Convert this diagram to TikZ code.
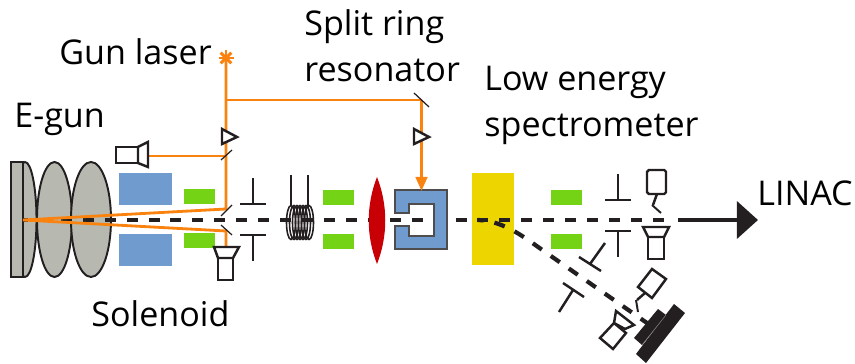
\documentclass[tikz,border=0pt]{standalone}
\usepackage{fontspec}
\setmainfont{Open Sans}
\usepackage{xcolor}
\usetikzlibrary{arrows.meta,positioning,calc,shapes.geometric}
\definecolor{mygrey}{RGB}{183,185,176}
\definecolor{myblue}{RGB}{112,155,207}
\definecolor{mygreen}{RGB}{115,211,20}
\definecolor{myorange}{RGB}{250,130,15}
\definecolor{myred}{RGB}{200,0,5}
\definecolor{myyellow}{RGB}{237,213,0}
\definecolor{myblack}{RGB}{35,31,32}
\tikzset{
  label/.style={anchor=base west, inner sep=0pt, font=\fontsize{19.4}{23}\selectfont},
  partline/.style={myblack, line width=1.4pt},
  partbox/.style={draw=myblack, fill=white, line width=1.4pt, line join=miter},
  beam/.style={myblack, line width=2.4pt, dash pattern=on 6.24pt off 6.24pt},
  laser/.style={myorange, line width=1.6pt},
  mirror/.style={myblack, line width=0.7pt},
}
\begin{document}
\begin{tikzpicture}[x=0.02cm,y=-0.02cm]
  \useasboundingbox (0,0) rectangle (855,364);
  % fixed points of the beams
  \coordinate (cathode) at (23,220);
  \coordinate (laserstar) at (226,58);
  \coordinate (splitm) at (421.5,100);
  \coordinate (branch) at (226,100);
  \coordinate (vcm) at (226,156);
  \coordinate (upperm) at (226,209);
  \coordinate (lowerm) at (226,231);
  \coordinate (bendstart) at (478,220);
  \coordinate (bendend) at (548,254);

  % gun
  \foreach \cx/\rx in {25/11.5, 54.5/17.5, 91/20}{
    \draw[fill=mygrey, draw=myblack, line width=1.1pt] (\cx,219.5) ellipse ({\rx} and 57.5);
  }
  \foreach \x/\w in {119/53}{
    \fill[myblue] (\x,173) rectangle ++(\w,32);
    \fill[myblue] (\x,234) rectangle ++(\w,32);
  }
  % steerers
  \foreach \x/\ya/\yb in {184/189/233, 323/190/234, 551/190/234}{
    \fill[mygreen] (\x,\ya) rectangle ++(30.5,15.5);
    \fill[mygreen] (\x,\yb) rectangle ++(30.5,15.5);
  }
  \fill[myyellow] (472,173) rectangle (514,265);

  % beam line
  \draw[beam] (17,220) -- (668,220);
  \draw[myblack, line width=2.4pt, -{Triangle[length=12pt,width=21pt]}] (678,220) -- (758,220);
  \draw[beam, dash phase=3pt] (bendstart) .. controls (505,221) and (525,238) .. (bendend) -- (647,323);

  % cathode plate
  \draw[fill=mygrey, draw=myblack, line width=1.4pt] (11,162) rectangle (23,277);

  % coil
  \foreach \x in {291,294,297,300,303,306,309}{
    \draw[myblack, line width=0.9pt] (\x,222.5) ellipse (4.5 and 17);
  }
  \foreach \x in {291,308}{
    \draw[partline] (\x,175) -- (\x,206);
  }

  % lens
  \fill[myred] (377,177) .. controls (388,205) and (388,236) .. (377,264)
    .. controls (366,236) and (366,205) .. (377,177) -- cycle;

  % resonator
  \draw[fill=myblue, draw=myblack!80, line width=0.8pt]
    (395,190) -- (447,190) -- (447,249) -- (395,249) -- (395,226) -- (409,226)
    -- (409,236) -- (434,236) -- (434,204) -- (409,204) -- (409,213) -- (395,213) -- cycle;

  % slits
  \foreach \x/\ya/\yb in {253/204/235, 618/200/231}{
    \draw[partline] (\x-13,\ya) -- (\x+13,\ya) (\x,\ya) -- (\x,\ya-26);
    \draw[partline] (\x-13,\yb) -- (\x+13,\yb) (\x,\yb) -- (\x,\yb+26);
  }
  \draw[partline] (579,257) -- (601,271) (590,264) -- (605,243);
  \draw[partline] (563,283) -- (584,297) (573,290) -- (559,312);

  % laser paths
  \draw[laser] (laserstar) -- (upperm) -- (cathode) -- (lowerm) -- (226,247);
  \draw[laser] (branch) -- (splitm);
  \draw[laser] (vcm) -- (148,156);
  \draw[laser, line width=1.8pt, -{Triangle[length=8pt,width=6.5pt]}] (splitm) -- (421.5,191);
  \foreach \a in {0,45,90,135}{
    \draw[myorange, line width=1.7pt] ($(laserstar)+(\a:7.5)$) -- ($(laserstar)+(\a+180:7.5)$);
  }

  % mirrors
  \draw[mirror] (221,160) -- (232,150);
  \draw[mirror] (221,216) -- (232,205);
  \draw[mirror] (221,225) -- (232,235);
  \draw[mirror] (414,93) -- (429,107);

  % attenuators
  \draw[partbox] (222,129) -- (237,137) -- (222,144) -- cycle;
  \draw[partbox] (414,129) -- (429,137) -- (414,144) -- cycle;

  % cameras
  \draw[partbox] (116,147) rectangle (138,163);
  \draw[partbox] (138,147) -- (148,142) -- (148,167) -- (138,163) -- cycle;
  \draw[partbox] (218,258) rectangle (233,280);
  \draw[partbox] (214,247) -- (239,247) -- (233,258) -- (218,258) -- cycle;
  \draw[partbox] (648,237) rectangle (664,259);
  \draw[partbox] (643,227) -- (669,227) -- (664,237) -- (648,237) -- cycle;

  % screens
  \draw[partbox, rounded corners=1pt] (647,170) rectangle (666,194);
  \draw[partline] (657,194) -- (653,205);
  \draw[mirror, line width=1.1pt] (652,205) -- (661,213);

  % dump arm
  \draw[partbox] (652,269) -- (666,279) -- (652,298) -- (638,287) -- cycle;
  \draw[partline] (645,293) -- (637,300);
  \draw[mirror, line width=1.1pt] (636,300) -- (638,312);
  \draw[partbox] (600,338) -- (614,323) -- (626,333) -- (613,349) -- cycle;
  \draw[partbox] (616,311) -- (634,325) -- (625,329) -- (614,323) -- cycle;

  % spectrometer
  \fill[myblack] (658,309) -- (666,315) -- (642,345) -- (634,338) -- cycle;
  \fill[myblack] (674,304) -- (685,313) -- (646,363) -- (636,354) -- cycle;
  \draw[gray, line width=0.3pt] (666,315) -- (642,345);

  % labels
  \node[label] (gunlaser) at (59,65) {Gun laser};
  \node[label] (egun) at (14,128) {E-gun};
  \node[label] (solenoid) at (91,327) {Solenoid};
  \node[label] (splitring) at (304,36) {Split ring};
  \node[label] (resonator) at (304,82) {resonator};
  \node[label] (lowenergy) at (484,91) {Low energy};
  \node[label] (spectrometer) at (484,137) {spectrometer};
  \node[label] (linac) at (757,206) {LINAC};
\end{tikzpicture}
\end{document}
